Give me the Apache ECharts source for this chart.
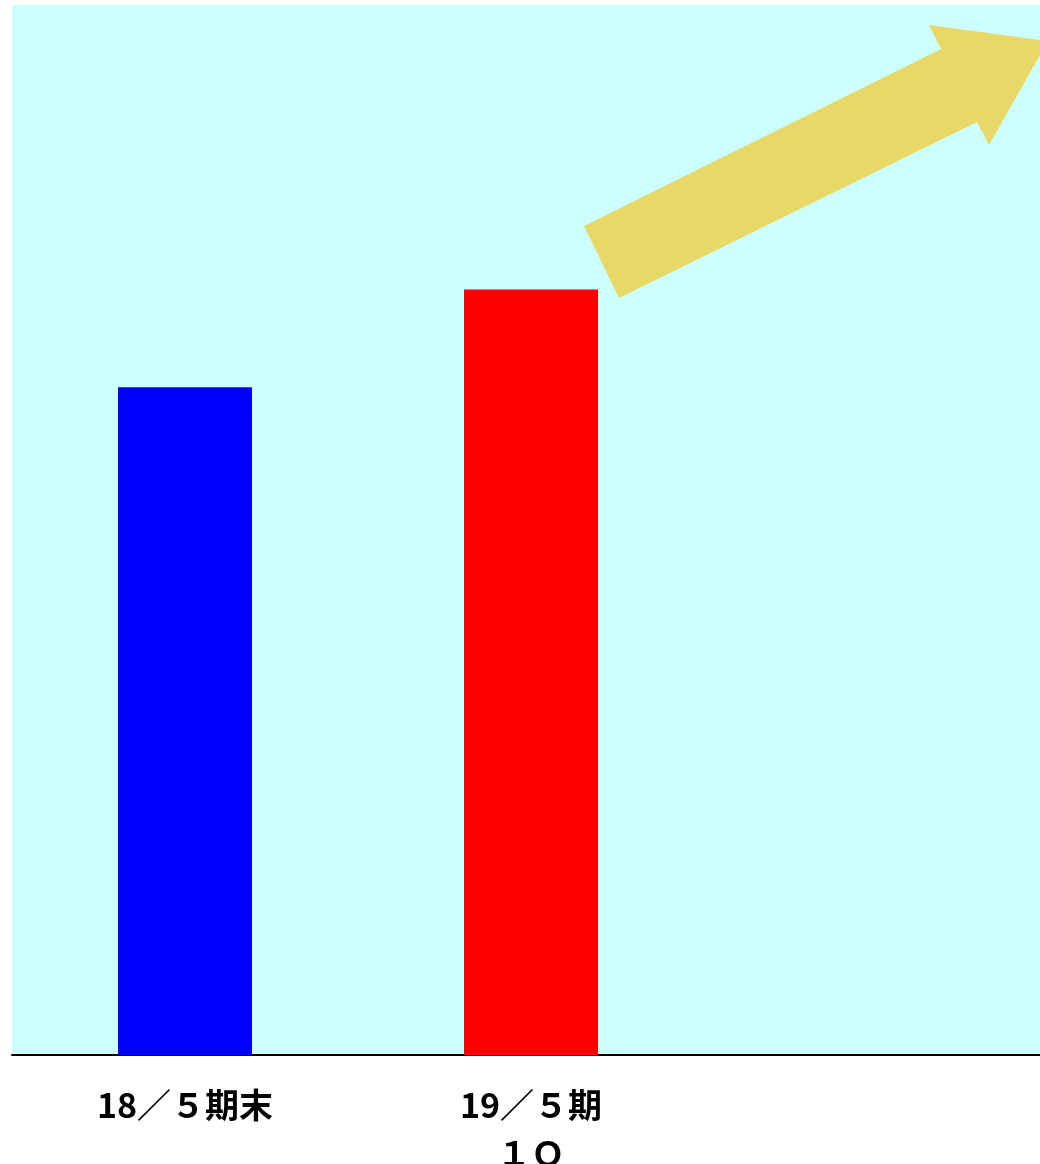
<!DOCTYPE html>
<html>
<head>
<meta charset="utf-8">
<script src="https://cdn.jsdelivr.net/npm/echarts@6/dist/echarts.min.js"></script>
<style>
html,body{margin:0;padding:0;background:#fff;}
#chart{width:1040px;height:1164px;}
</style>
</head>
<body>
<div id="chart"></div>
<script>
const categories = ['18／５期末', '19／５期\n１Ｑ', ''];
const values = [63.6, 72.9, null];
const yMax = 100;

const barColors = ['#0000FF', '#FF0000', '#FF0000'];

const chart = echarts.init(document.getElementById('chart'), null, {renderer: 'canvas'});
chart.setOption({
  animation: false,
  backgroundColor: '#FFFFFF',
  grid: {
    left: 12, right: -10, top: 5, bottom: 109,
    containLabel: false,
    outerBoundsMode: 'none',
    show: true, backgroundColor: '#CCFFFF', borderWidth: 0
  },
  xAxis: {
    type: 'category',
    data: categories,
    axisLine: {show: true, lineStyle: {color: '#000000', width: 2}},
    axisTick: {show: false},
    axisLabel: {
      interval: 0,
      margin: 26,
      color: '#000000',
      fontFamily: '"Noto Sans CJK JP", "Noto Sans", sans-serif',
      fontWeight: 'bold',
      fontSize: 34,
      lineHeight: 48,
      verticalAlign: 'top'
    },
    splitLine: {show: false}
  },
  yAxis: {
    type: 'value',
    min: 0, max: yMax,
    show: false,
    splitLine: {show: false}
  },
  series: [{
    type: 'bar',
    barWidth: 134,
    data: values.map((v, i) => ({value: v, itemStyle: {color: barColors[i]}}))
  }],
  graphic: [{
    type: 'polygon',
    z: 100,
    shape: {
      points: [[584, 226], [941, 49], [929, 25], [1048, 41], [989, 145], [977, 122], [619, 298]]
    },
    style: {fill: '#E8D868'}
  }]
});
</script>
</body>
</html>
